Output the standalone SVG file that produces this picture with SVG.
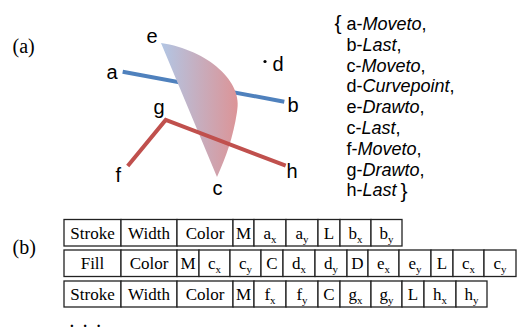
<svg xmlns="http://www.w3.org/2000/svg" width="519" height="331" viewBox="0 0 519 331">
<style>
.lbl{font-family:"Liberation Sans",Arial,sans-serif;font-size:20px;fill:#000}
.ser{font-family:"Liberation Serif","Times New Roman",serif;font-size:20px;fill:#000}
.lst{font-family:"Liberation Sans",Arial,sans-serif;font-size:18px;fill:#000}
.it{font-style:italic}
.cell{fill:#fff;stroke:#222;stroke-width:1.3}
.t{font-family:"Liberation Serif","Times New Roman",serif;font-size:17px;fill:#000;text-anchor:middle}
.sub{font-size:11px}
</style>
<defs>
<linearGradient id="grad" x1="0" y1="0" x2="1" y2="0">
<stop offset="0" stop-color="#b2c6e4"/>
<stop offset="1" stop-color="#dc9497"/>
</linearGradient>
</defs>
<rect width="519" height="331" fill="#fff"/>
<text class="ser" x="12.5" y="53.4">(a)</text>
<text class="ser" x="12.5" y="254.4">(b)</text>
<g id="connectors">
<polyline id="stroke-ab" points="122.7,71.7 284.3,101.7" fill="none" stroke="#4f81bd" stroke-width="4"/>
</g>
<g id="fill-shape">
<path d="M161,43 C208,50 244,82 237,112 C233,138 226,157 217,177 Z" fill="url(#grad)"/>
</g>
<g id="connectors-2">
<polyline id="stroke-fgh" points="127.7,166 165.7,120 285.7,165.7" fill="none" stroke="#c0504d" stroke-width="4"/>
</g>
<g id="point-labels">
<text class="lbl" x="106.5" y="79">a</text>
<text class="lbl" x="287.5" y="112">b</text>
<text class="lbl" x="212.5" y="195">c</text>
<circle cx="265" cy="61.5" r="1.6" fill="#000"/>
<text class="lbl" x="272.5" y="71">d</text>
<text class="lbl" x="146.5" y="43">e</text>
<text class="lbl" x="115.5" y="182">f</text>
<text class="lbl" x="153.5" y="114">g</text>
<text class="lbl" x="286.5" y="178">h</text>
</g>
<g id="list">
<text class="lst" x="334.5" y="29.5" style="font-size:21px">{</text>
<text class="lst" x="346.5" y="30">a-<tspan class="it">Moveto</tspan>,</text>
<text class="lst" x="346.5" y="50.8">b-<tspan class="it">Last</tspan>,</text>
<text class="lst" x="346.5" y="71.6">c-<tspan class="it">Moveto</tspan>,</text>
<text class="lst" x="346.5" y="92.4">d-<tspan class="it">Curvepoint</tspan>,</text>
<text class="lst" x="346.5" y="113.2">e-<tspan class="it">Drawto</tspan>,</text>
<text class="lst" x="346.5" y="134">c-<tspan class="it">Last</tspan>,</text>
<text class="lst" x="346.5" y="154.8">f-<tspan class="it">Moveto</tspan>,</text>
<text class="lst" x="346.5" y="175.6">g-<tspan class="it">Drawto</tspan>,</text>
<text class="lst" x="346.5" y="196.4">h-<tspan class="it">Last</tspan></text>
<text class="lst" x="400.5" y="197.5" style="font-size:21px">}</text>
</g>
<g id="row1">
<rect class="cell" x="64" y="219.5" width="57" height="26.5"/>
<rect class="cell" x="121" y="219.5" width="56" height="26.5"/>
<rect class="cell" x="177" y="219.5" width="56" height="26.5"/>
<rect class="cell" x="233" y="219.5" width="21" height="26.5"/>
<rect class="cell" x="254" y="219.5" width="32" height="26.5"/>
<rect class="cell" x="286" y="219.5" width="32" height="26.5"/>
<rect class="cell" x="318" y="219.5" width="22" height="26.5"/>
<rect class="cell" x="340" y="219.5" width="31" height="26.5"/>
<rect class="cell" x="371" y="219.5" width="31" height="26.5"/>
<text class="t" x="92.5" y="238.8">Stroke</text>
<text class="t" x="149" y="238.8">Width</text>
<text class="t" x="205" y="238.8">Color</text>
<text class="t" x="243.5" y="238.8">M</text>
<text class="t" x="270" y="238.8">a<tspan class="sub" dy="4">x</tspan></text>
<text class="t" x="302" y="238.8">a<tspan class="sub" dy="4">y</tspan></text>
<text class="t" x="329" y="238.8">L</text>
<text class="t" x="355.5" y="238.8">b<tspan class="sub" dy="4">x</tspan></text>
<text class="t" x="386.5" y="238.8">b<tspan class="sub" dy="4">y</tspan></text>
</g>
<g id="row2">
<rect class="cell" x="64" y="250" width="57" height="26.5"/>
<rect class="cell" x="121" y="250" width="56" height="26.5"/>
<rect class="cell" x="177" y="250" width="22" height="26.5"/>
<rect class="cell" x="199" y="250" width="31" height="26.5"/>
<rect class="cell" x="230" y="250" width="31" height="26.5"/>
<rect class="cell" x="261" y="250" width="22" height="26.5"/>
<rect class="cell" x="283" y="250" width="32" height="26.5"/>
<rect class="cell" x="315" y="250" width="32" height="26.5"/>
<rect class="cell" x="347" y="250" width="21" height="26.5"/>
<rect class="cell" x="368" y="250" width="31" height="26.5"/>
<rect class="cell" x="399" y="250" width="32" height="26.5"/>
<rect class="cell" x="431" y="250" width="22" height="26.5"/>
<rect class="cell" x="453" y="250" width="31" height="26.5"/>
<rect class="cell" x="484" y="250" width="32" height="26.5"/>
<text class="t" x="92.5" y="268.8">Fill</text>
<text class="t" x="149" y="268.8">Color</text>
<text class="t" x="188" y="268.8">M</text>
<text class="t" x="214.5" y="268.8">c<tspan class="sub" dy="4">x</tspan></text>
<text class="t" x="245.5" y="268.8">c<tspan class="sub" dy="4">y</tspan></text>
<text class="t" x="272" y="268.8">C</text>
<text class="t" x="299" y="268.8">d<tspan class="sub" dy="4">x</tspan></text>
<text class="t" x="331" y="268.8">d<tspan class="sub" dy="4">y</tspan></text>
<text class="t" x="357.5" y="268.8">D</text>
<text class="t" x="383.5" y="268.8">e<tspan class="sub" dy="4">x</tspan></text>
<text class="t" x="415" y="268.8">e<tspan class="sub" dy="4">y</tspan></text>
<text class="t" x="442" y="268.8">L</text>
<text class="t" x="468.5" y="268.8">c<tspan class="sub" dy="4">x</tspan></text>
<text class="t" x="500" y="268.8">c<tspan class="sub" dy="4">y</tspan></text>
</g>
<g id="row3">
<rect class="cell" x="64" y="281" width="57" height="26"/>
<rect class="cell" x="121" y="281" width="56" height="26"/>
<rect class="cell" x="177" y="281" width="56" height="26"/>
<rect class="cell" x="233" y="281" width="21" height="26"/>
<rect class="cell" x="254" y="281" width="32" height="26"/>
<rect class="cell" x="286" y="281" width="32" height="26"/>
<rect class="cell" x="318" y="281" width="22" height="26"/>
<rect class="cell" x="340" y="281" width="31" height="26"/>
<rect class="cell" x="371" y="281" width="31" height="26"/>
<rect class="cell" x="402" y="281" width="22" height="26"/>
<rect class="cell" x="424" y="281" width="32" height="26"/>
<rect class="cell" x="456" y="281" width="31" height="26"/>
<text class="t" x="92.5" y="299.5">Stroke</text>
<text class="t" x="149" y="299.5">Width</text>
<text class="t" x="205" y="299.5">Color</text>
<text class="t" x="243.5" y="299.5">M</text>
<text class="t" x="270" y="299.5">f<tspan class="sub" dy="4">x</tspan></text>
<text class="t" x="302" y="299.5">f<tspan class="sub" dy="4">y</tspan></text>
<text class="t" x="329" y="299.5">C</text>
<text class="t" x="355.5" y="299.5">g<tspan class="sub" dy="4">x</tspan></text>
<text class="t" x="386.5" y="299.5">g<tspan class="sub" dy="4">y</tspan></text>
<text class="t" x="413" y="299.5">L</text>
<text class="t" x="440" y="299.5">h<tspan class="sub" dy="4">x</tspan></text>
<text class="t" x="471.5" y="299.5">h<tspan class="sub" dy="4">y</tspan></text>
</g>
<text x="70" y="327" style="font-family:'Liberation Serif','Times New Roman',serif;font-size:15px;font-weight:bold;letter-spacing:9.6px">...</text>
</svg>
